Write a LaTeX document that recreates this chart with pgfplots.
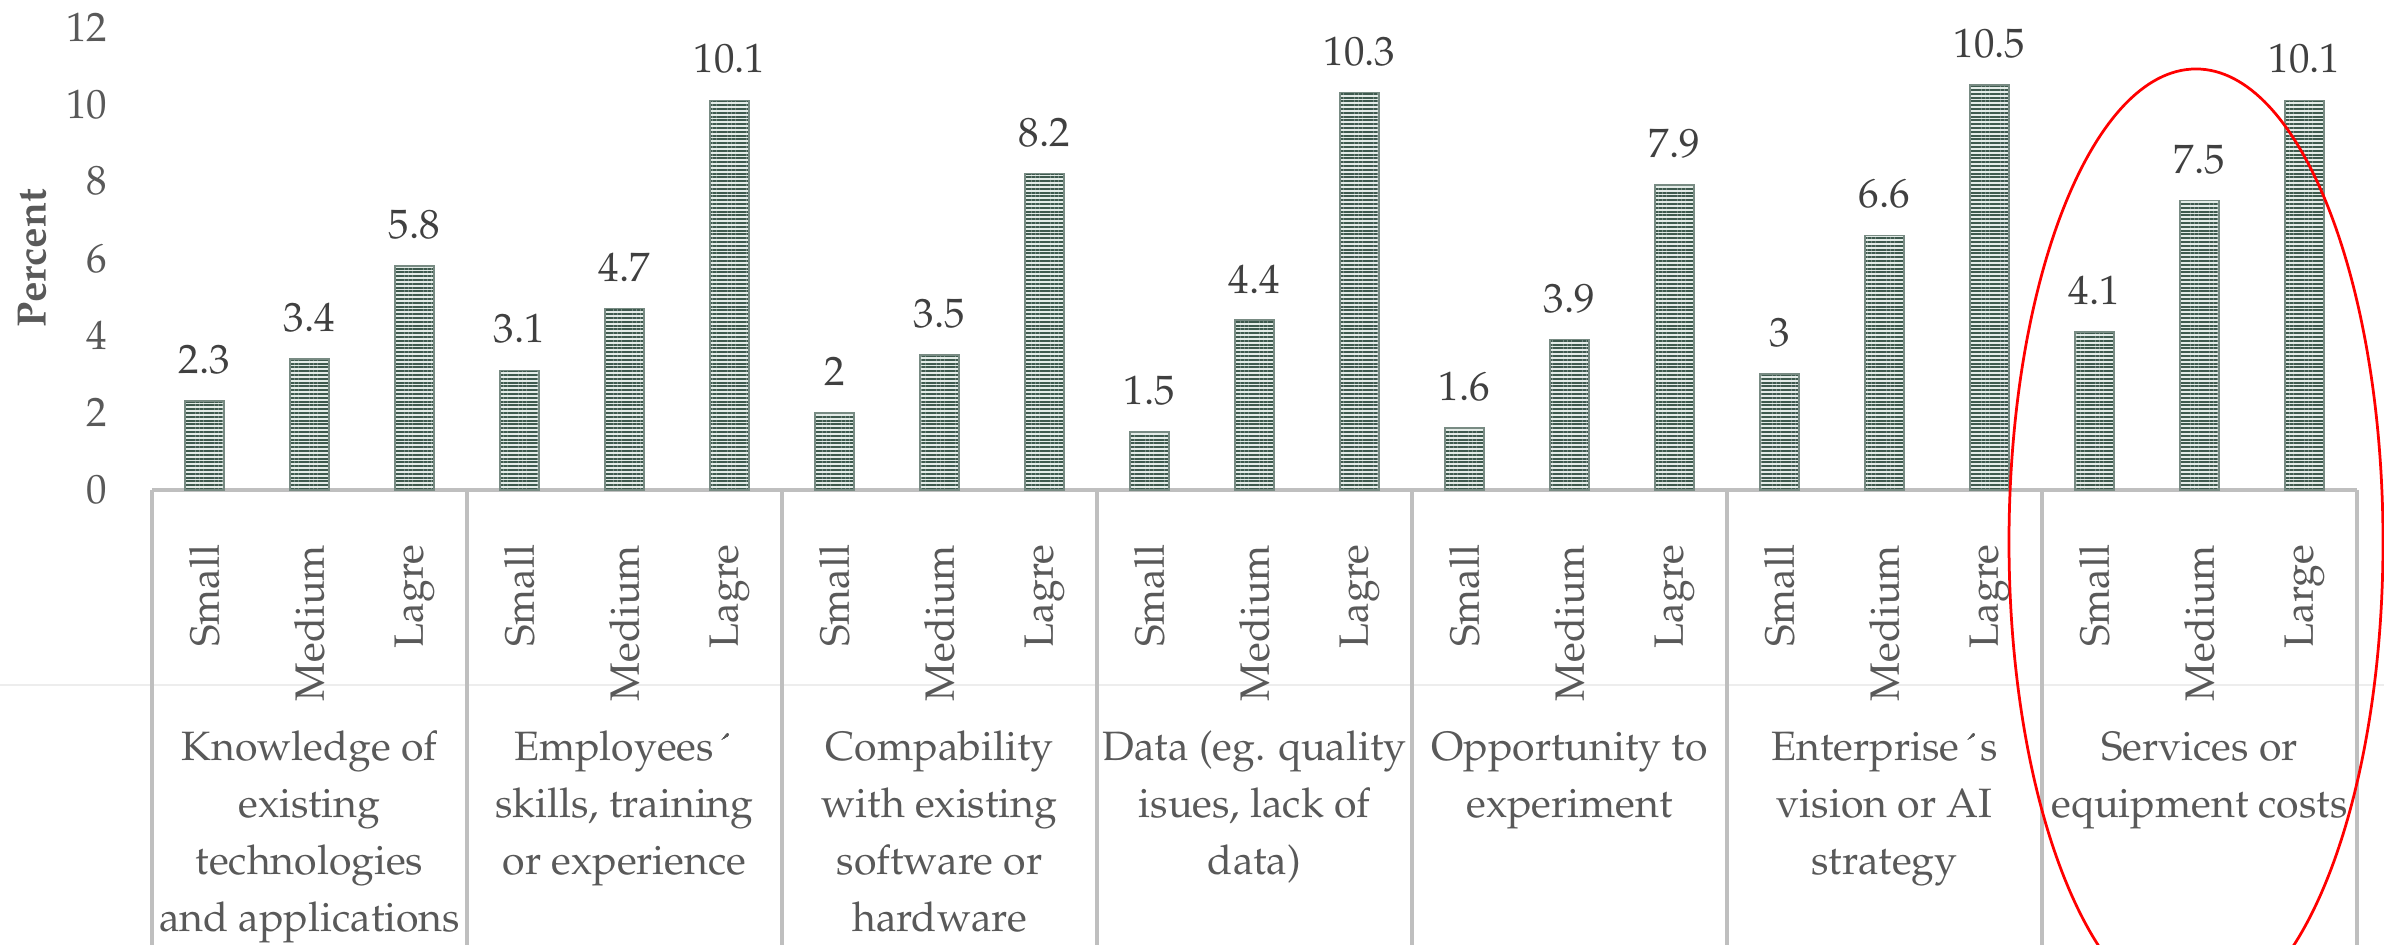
\documentclass[border=0pt]{standalone}
\usepackage[T1]{fontenc}
\usepackage{mathpazo}
\usepackage{pgfplots}
\pgfplotsset{compat=1.18}
\usetikzlibrary{patterns.meta}
\definecolor{txt}{HTML}{595959}
\definecolor{lab}{HTML}{404040}
\definecolor{axc}{HTML}{BFBFBF}
\definecolor{barc}{HTML}{3E5A4E}
\definecolor{barl}{HTML}{E4ECE8}
\newcommand{\fs}{\fontsize{8.2}{11.4}\selectfont}
\begin{document}
\begin{tikzpicture}
\path[use as bounding box] (0,0) rectangle (476.8pt,189pt);
\clip (0,0) rectangle (476.8pt,189pt);
\draw[color=black!7, line width=0.4pt] (0,52pt) -- (476.8pt,52pt);
\begin{axis}[
  at={(30.4pt,91pt)}, anchor=south west,
  scale only axis, width=441pt, height=92.6pt,
  xmin=-0.5, xmax=20.5, ymin=0, ymax=12,
  ytick={0,2,...,12},
  xtick={0,...,20},
  xticklabels={Small,Medium,Lagre,Small,Medium,Lagre,Small,Medium,Lagre,Small,Medium,Lagre,Small,Medium,Lagre,Small,Medium,Lagre,Small,Medium,Large},
  axis x line*=bottom, axis y line*=left,
  x axis line style={axc, line width=0.8pt},
  y axis line style={draw=none},
  tick style={draw=none},
  ybar, bar width=0.37,
  clip=false,
  yticklabel style={font=\fs, text=txt, inner sep=0pt, xshift=-8.8pt, anchor=east},
  xticklabel style={font=\fs, text=txt, inner sep=0pt, rotate=90, anchor=east},
  xticklabel shift=6.5pt,
  ylabel={\bfseries Percent},
  ylabel style={font=\fs, text=txt, at={(axis description cs:-0.0544,0.5)}, anchor=center},
  nodes near coords,
  every node near coord/.append style={font=\fs, text=lab, inner sep=0pt, yshift=5.2pt},
]
\addplot[fill=barl, draw=barc!70, line width=0.3pt,
  postaction={pattern={Lines[angle=0,distance=0.76pt,line width=0.38pt]}, pattern color=barc}]
coordinates {
(0,2.3) (1,3.4) (2,5.8)
(3,3.1) (4,4.7) (5,10.1)
(6,2) (7,3.5) (8,8.2)
(9,1.5) (10,4.4) (11,10.3)
(12,1.6) (13,3.9) (14,7.9)
(15,3) (16,6.6) (17,10.5)
(18,4.1) (19,7.5) (20,10.1)
};
\draw[axc, line width=0.8pt] (axis cs:-0.5,0) -- ([yshift=-110pt]axis cs:-0.5,0);
\draw[axc, line width=0.8pt] (axis cs:2.5,0) -- ([yshift=-110pt]axis cs:2.5,0);
\draw[axc, line width=0.8pt] (axis cs:5.5,0) -- ([yshift=-110pt]axis cs:5.5,0);
\draw[axc, line width=0.8pt] (axis cs:8.5,0) -- ([yshift=-110pt]axis cs:8.5,0);
\draw[axc, line width=0.8pt] (axis cs:11.5,0) -- ([yshift=-110pt]axis cs:11.5,0);
\draw[axc, line width=0.8pt] (axis cs:14.5,0) -- ([yshift=-110pt]axis cs:14.5,0);
\draw[axc, line width=0.8pt] (axis cs:17.5,0) -- ([yshift=-110pt]axis cs:17.5,0);
\draw[axc, line width=0.8pt] (axis cs:20.5,0) -- ([yshift=-110pt]axis cs:20.5,0);
\node[anchor=north, align=center, inner sep=0pt, font=\fs, text=txt] at ([yshift=-46pt]axis cs:1,0) {\strut Knowledge of\\existing\\technologies\\and applications};
\node[anchor=north, align=center, inner sep=0pt, font=\fs, text=txt] at ([yshift=-46pt]axis cs:4,0) {\strut Employees\textasciiacute\\skills, training\\or experience};
\node[anchor=north, align=center, inner sep=0pt, font=\fs, text=txt] at ([yshift=-46pt]axis cs:7,0) {\strut Compability\\with existing\\software or\\hardware};
\node[anchor=north, align=center, inner sep=0pt, font=\fs, text=txt] at ([yshift=-46pt]axis cs:10,0) {\strut Data (eg. quality\\isues, lack of\\data)};
\node[anchor=north, align=center, inner sep=0pt, font=\fs, text=txt] at ([yshift=-46pt]axis cs:13,0) {\strut Opportunity to\\experiment};
\node[anchor=north, align=center, inner sep=0pt, font=\fs, text=txt] at ([yshift=-46pt]axis cs:16,0) {\strut Enterprise\textasciiacute s\\vision or AI\\strategy};
\node[anchor=north, align=center, inner sep=0pt, font=\fs, text=txt] at ([yshift=-46pt]axis cs:19,0) {\strut Services or\\equipment costs};
\end{axis}
\draw[red, line width=0.55pt] (439.2pt,80.6pt) ellipse [x radius=37.4pt, y radius=94.6pt];
\end{tikzpicture}
\end{document}
